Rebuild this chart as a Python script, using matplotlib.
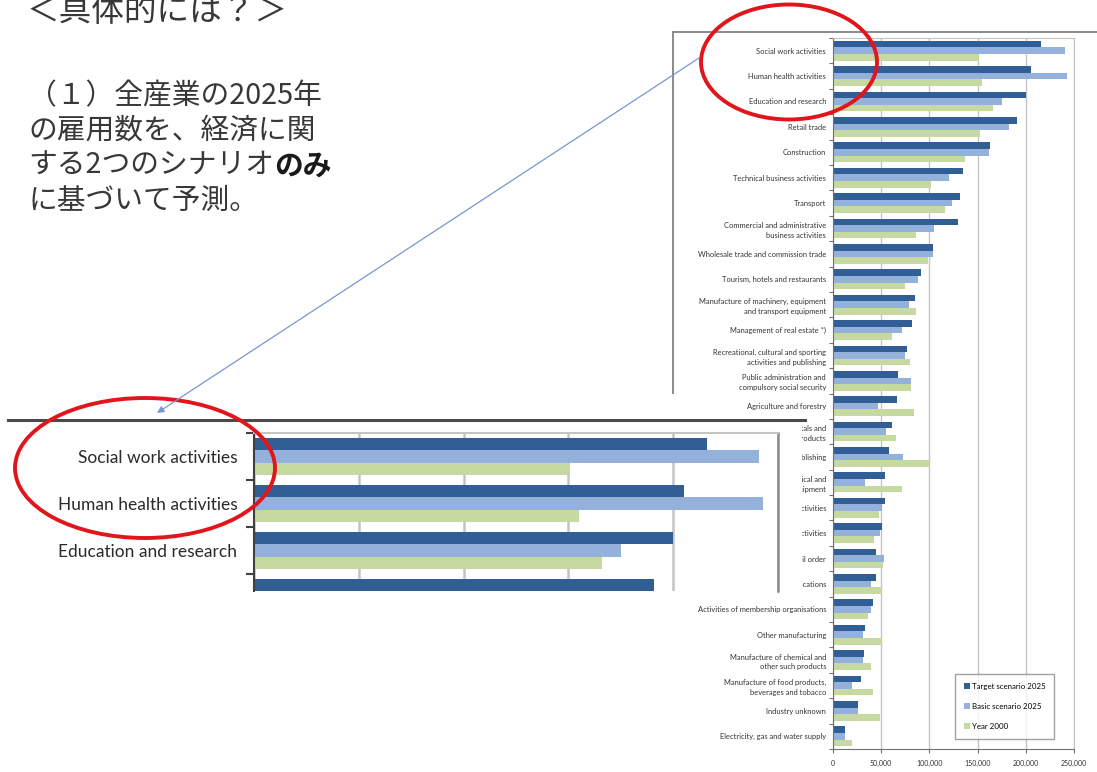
import matplotlib
matplotlib.use("Agg")
import matplotlib.pyplot as plt
import numpy as np
from matplotlib.patches import Ellipse, Rectangle
from matplotlib.lines import Line2D

# employment by industry, number of persons
categories = [
    "Social work activities",
    "Human health activities",
    "Education and research",
    "Retail trade",
    "Construction",
    "Technical business activities",
    "Transport",
    "Commercial and administrative\nbusiness activities",
    "Wholesale trade and commission trade",
    "Tourism, hotels and restaurants",
    "Manufacture of machinery, equipment\nand transport equipment",
    "Management of real estate *)",
    "Recreational, cultural and sporting\nactivities and publishing",
    "Public administration and\ncompulsory social security",
    "Agriculture and forestry",
    "Manufacture of metals and\nmetal products",
    "Printing and publishing",
    "Manufacture of electrical and\noptical equipment",
    "Financial activities",
    "Other service activities",
    "Retail sale by mail order",
    "Post and telecommunications",
    "Activities of membership organisations",
    "Other manufacturing",
    "Manufacture of chemical and\nother such products",
    "Manufacture of food products,\nbeverages and tobacco",
    "Industry unknown",
    "Electricity, gas and water supply",
]
target_2025 = [216000, 205000, 200000, 191000, 163000, 135000, 132000, 130000,
               104000, 91000, 85000, 82000, 77000, 67500, 66500, 61000, 58000,
               54000, 54000, 50500, 44500, 44500, 41500, 33000, 32000, 29000,
               26000, 12500]
basic_2025 = [241000, 243000, 175000, 183000, 162000, 120000, 123000, 105000,
              104000, 88000, 79000, 71500, 74500, 81000, 46700, 55000, 72500,
              33000, 50500, 48500, 53000, 39500, 39500, 31000, 31000, 19500,
              26000, 12500]
year_2000 = [151000, 155000, 166000, 153000, 137000, 102000, 116000, 86000,
             99000, 75000, 86000, 61500, 80000, 81000, 84000, 65000, 101000,
             71500, 48000, 42500, 51500, 50500, 36000, 51000, 39500, 41500,
             49000, 19500]
series_names = ["Target scenario 2025", "Basic scenario 2025", "Year 2000"]
x_ticks = [0, 50000, 100000, 150000, 200000, 250000]

colors = ["#325e96", "#93b1da", "#c6d9a0"]
grid_c = "#c4c4c4"
latin = ["Lato", "DejaVu Sans"]
jp = ["Noto Sans CJK JP", "DejaVu Sans"]

W, H = 1097, 772
fig = plt.figure(figsize=(W / 100, H / 100), dpi=100)


def box(l, t, r, b):
    return [l / W, 1 - b / H, (r - l) / W, (b - t) / H]


def draw_bars(ax):
    y = np.arange(len(categories))
    h = 0.26
    for k, vals in enumerate([target_2025, basic_2025, year_2000]):
        ax.barh(y + (k - 1) * h, vals, h, color=colors[k], label=series_names[k], zorder=2)
    ax.set_xlim(x_ticks[0], x_ticks[-1])
    ax.set_xticks(x_ticks)
    ax.set_yticks(y)
    ax.set_yticks(np.arange(len(categories) + 1) - 0.5, minor=True)
    ax.xaxis.grid(True, color=grid_c, lw=1.0, zorder=0)
    ax.set_axisbelow(True)
    ax.tick_params(axis="y", which="major", length=0)


# main chart
ax = fig.add_axes(box(833, 38, 1074, 749))
draw_bars(ax)
ax.set_ylim(len(categories) - 0.5, -0.5)
ax.set_yticklabels(categories, fontsize=5.4, family=latin, color="#333333",
                   ha="right", multialignment="right", linespacing=1.45)
ax.set_xticklabels([f"{v:,}" for v in x_ticks], fontsize=5, family=latin, color="#333333")
ax.tick_params(axis="y", which="minor", length=3, width=0.8, color="#707070")
ax.tick_params(axis="y", which="major", pad=5)
ax.tick_params(axis="x", length=3, width=0.8, color="#707070", pad=5)
for s in ["left", "bottom"]:
    ax.spines[s].set_color("#707070")
for s in ["top", "right"]:
    ax.spines[s].set_color(grid_c)
leg = ax.legend(loc="lower right", bbox_to_anchor=(0.935, 0.009),
                prop={"family": latin, "size": 5.7}, frameon=True, fancybox=False,
                edgecolor="#8a8a8a", labelspacing=1.65, handlelength=0.7,
                handleheight=0.9, handletextpad=0.3, borderpad=1.1)
leg.get_frame().set_linewidth(1.0)

# white backing for the enlarged excerpt and the chart frame
under = fig.add_axes([0, 0, 1, 1], zorder=2)
under.set_xlim(0, W)
under.set_ylim(H, 0)
under.axis("off")
under.patch.set_alpha(0)
under.add_patch(Rectangle((5, 421), 797, 175, facecolor="white", edgecolor="none"))
under.add_line(Line2D([8, 805], [420, 420], color="#4a4a4a", lw=2.2))
under.add_line(Line2D([673, W], [32, 32], color="#8a8a8a", lw=1.4))
under.add_line(Line2D([673, 673], [32, 393], color="#8a8a8a", lw=1.4))

# enlarged excerpt of the top rows
ax2 = fig.add_axes(box(254, 433, 778, 591), zorder=3)
draw_bars(ax2)
ax2.set_ylim(-0.5 + (591 - 433) / 47, -0.5)
ax2.set_yticklabels(categories, fontsize=12.5, family=latin, color="#2a2a2a")
ax2.set_xticklabels([])
ax2.tick_params(axis="x", length=0)
ax2.tick_params(axis="y", which="minor", length=6, width=1.5, color="#404040")
ax2.tick_params(axis="y", which="major", pad=12)
ax2.xaxis.grid(True, color=grid_c, lw=1.8)
ax2.spines["bottom"].set_visible(False)
ax2.spines["top"].set_color(grid_c)
ax2.spines["top"].set_linewidth(1.5)
ax2.spines["right"].set_color("#8a8a8a")
ax2.spines["right"].set_linewidth(1.8)
ax2.spines["left"].set_color("#404040")
ax2.spines["left"].set_linewidth(1.5)

# annotations and slide text
over = fig.add_axes([0, 0, 1, 1], zorder=4)
over.set_xlim(0, W)
over.set_ylim(H, 0)
over.axis("off")
over.patch.set_alpha(0)

over.annotate("", xy=(157, 413), xytext=(699, 58),
              arrowprops=dict(arrowstyle="-|>", color="#7896d4", lw=0.9,
                              mutation_scale=10, shrinkA=0, shrinkB=0))
over.add_patch(Ellipse((789, 62), 176, 115, fill=False, ec="#e1161d", lw=2.8))
over.add_patch(Ellipse((145, 468), 260, 140, fill=False, ec="#e1161d", lw=2.8))

txt_c = "#383838"
# heading sits partly above the top edge of the slide crop
over.text(27, 21, "＜具体的には？＞", fontsize=23.5, family=jp, color=txt_c, va="baseline")
lines = ["（１）全産業の2025年", "の雇用数を、経済に関", "する2つのシナリオ", "に基づいて予測。"]
ys = [96, 131, 166, 201]
handles = []
for s, yy in zip(lines, ys):
    handles.append(over.text(28, yy, s, fontsize=20.7, family=jp, color=txt_c, va="center"))
fig.canvas.draw()
bb = handles[2].get_window_extent()
over.text(bb.x1, ys[2], "のみ", fontsize=20.7, family=jp, color="#1a1a1a",
          weight="bold", va="center")

fig.savefig("out.png", dpi=100)
